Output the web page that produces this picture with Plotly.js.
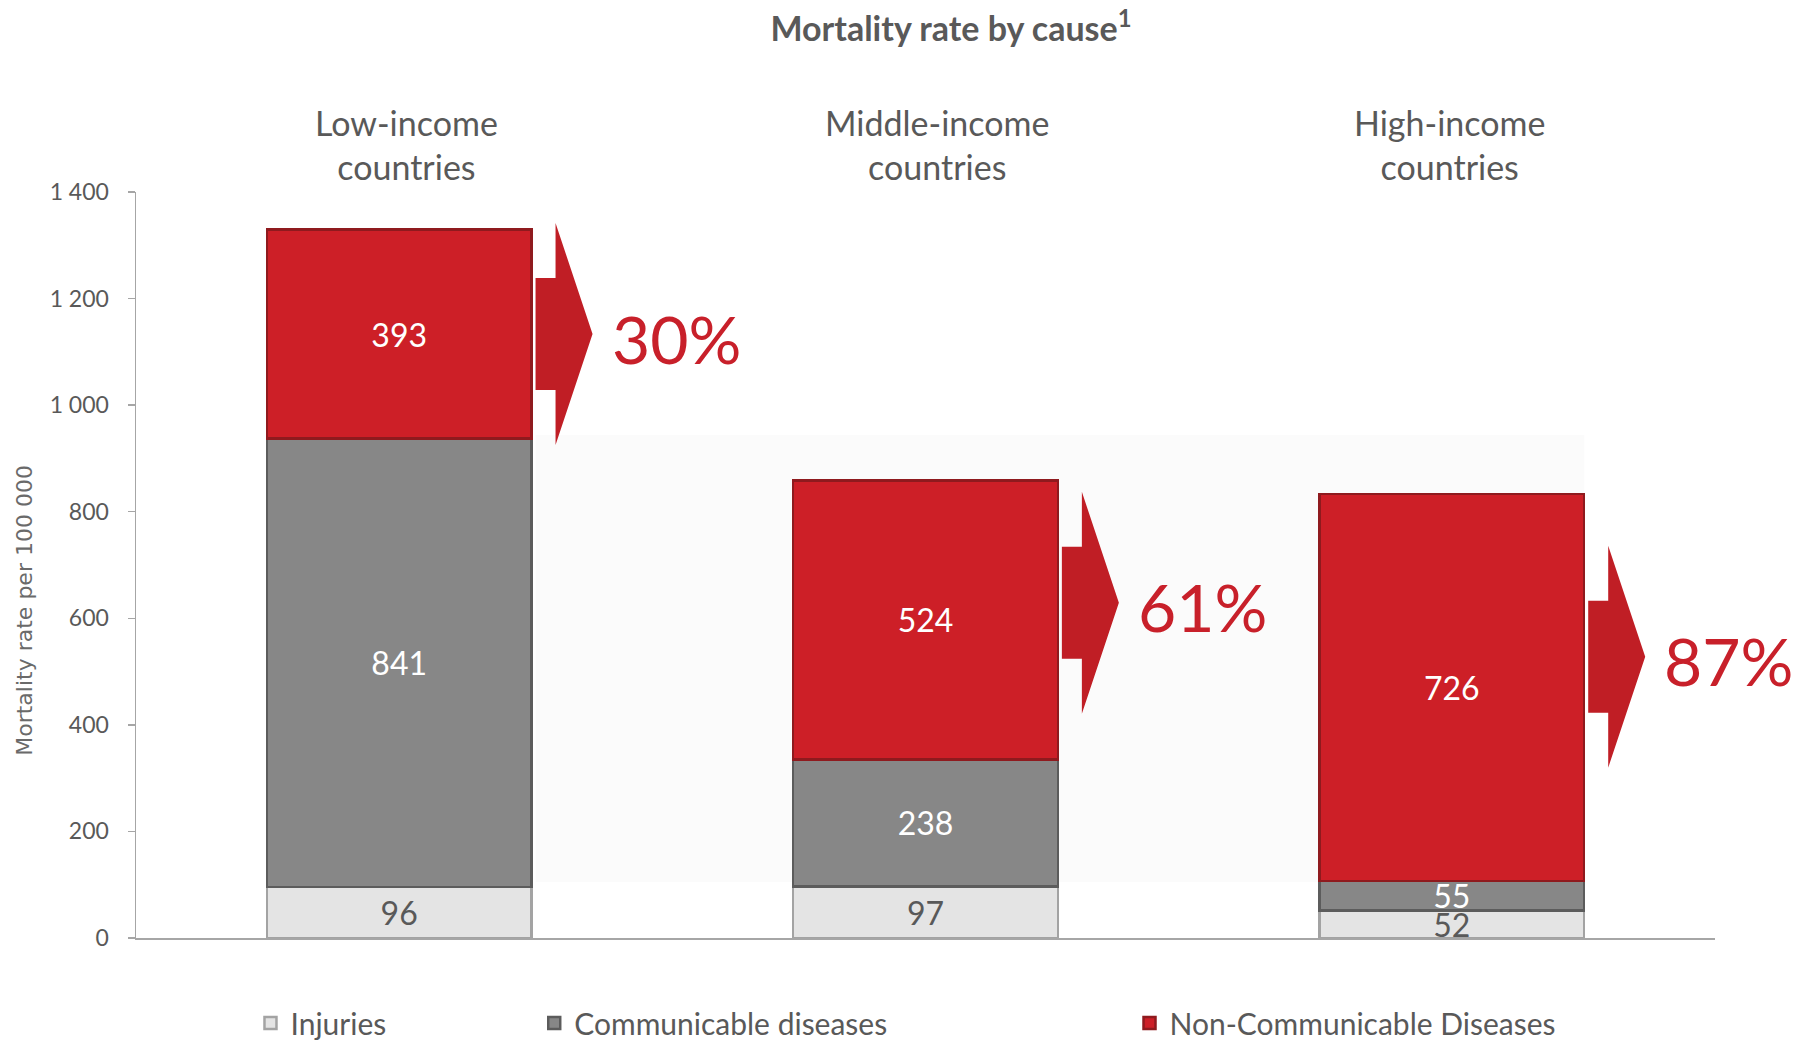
<!DOCTYPE html>
<html><head><meta charset="utf-8">
<script src="https://cdn.plot.ly/plotly-3.0.1.min.js"></script>
<style>html,body{margin:0;padding:0;background:#fff;} #chart{width:1796px;height:1040px;}</style>
</head><body><div id="chart"></div>
<script>
// ---- data ----
const categories = ['Low-income countries', 'Middle-income countries', 'High-income countries'];
const categoryLabels = ['Low-income<br>countries', 'Middle-income<br>countries', 'High-income<br>countries'];
const seriesNames = ['Injuries', 'Communicable diseases', 'Non-Communicable Diseases'];
const injuries = [96, 97, 52];
const communicable = [841, 238, 55];
const nonCommunicable = [393, 524, 726];
const ncdShareLabels = ['30%', '61%', '87%'];
const yTickValues = [0, 200, 400, 600, 800, 1000, 1200, 1400];
const yTickLabels = ['0', '200', '400', '600', '800', '1 000', '1 200', '1 400'];
const yAxisTitle = 'Mortality rate per 100 000';
const chartTitle = '<b>Mortality rate by cause<sup>1</sup></b>';

// ---- styling ----
const FONT = 'Lato, "Open Sans", sans-serif';
const GREY_TXT = '#595959';
const BAR_W = 0.503;
const barEdge = BAR_W / 2;

function barTrace(values, name, fill, lineColor, txtColor, txtSize, legendId) {
  return {
    type: 'bar', x: categories, y: values, name: name, width: BAR_W,
    marker: {color: fill, line: {color: lineColor, width: 2.5}},
    text: values.map(String), textposition: 'inside', insidetextanchor: 'middle',
    textangle: 0, constraintext: 'none',
    textfont: {family: FONT, size: txtSize, color: txtColor},
    hoverinfo: 'skip', legend: legendId, showlegend: true
  };
}

const traces = [
  barTrace(injuries, seriesNames[0], '#e4e4e4', '#a3a3a3', GREY_TXT, 35, 'legend'),
  barTrace(communicable, seriesNames[1], '#878787', '#5c5c5c', '#ffffff', 32, 'legend2'),
  barTrace(nonCommunicable, seriesNames[2], '#cd1f27', '#8f1a1e', '#ffffff', 32, 'legend3')
];

// layout-only positions for decorations
const arrowCenters = [1133.5, 629, 528];
const labelShift = [7, 11, -2];

const annotations = [];
categories.forEach((c, i) => {
  annotations.push({
    x: i, xref: 'x', y: 1.0637, yref: 'paper', xshift: labelShift[i],
    text: categoryLabels[i], showarrow: false, yanchor: 'middle',
    font: {family: FONT, size: 34, color: GREY_TXT}
  });
  annotations.push({
    x: i + barEdge, xref: 'x', xanchor: 'left', xshift: 78,
    y: arrowCenters[i], yref: 'y', yanchor: 'middle', yshift: -4,
    text: ncdShareLabels[i], showarrow: false,
    font: {family: FONT, size: 66, color: '#c8202a'}
  });
});
annotations.push({
  x: -0.0703, xref: 'paper', y: 616, yref: 'y', textangle: -90,
  text: yAxisTitle, showarrow: false, xanchor: 'center', yanchor: 'middle',
  font: {family: '"DejaVu Sans", sans-serif', size: 22, color: '#6a6a6a'}
});

const shapes = [{
  type: 'rect', xref: 'x', yref: 'y', layer: 'below',
  x0: barEdge + 0.008, x1: 2 + barEdge, y0: 105, y1: 944,
  fillcolor: '#fbfbfb', line: {width: 0}
}];
categories.forEach((c, i) => {
  shapes.push({
    type: 'path', xref: 'x', yref: 'y', xsizemode: 'pixel', ysizemode: 'pixel',
    xanchor: i + barEdge, yanchor: arrowCenters[i],
    path: 'M4,-56L24,-56L24,-111L61,0L24,111L24,56L4,56Z',
    fillcolor: '#c01e25', line: {width: 0}
  });
});

const legendBase = {
  orientation: 'h', yref: 'paper', y: -0.114, yanchor: 'middle', xanchor: 'left',
  font: {family: FONT, size: 30, color: GREY_TXT}, bgcolor: 'rgba(0,0,0,0)', borderwidth: 0,
  visible: true
};

const layout = {
  width: 1796, height: 1040,
  margin: {l: 136, r: 81, t: 192, b: 102, autoexpand: false},
  paper_bgcolor: '#ffffff', plot_bgcolor: 'rgba(0,0,0,0)',
  showlegend: true,
  barmode: 'stack', bargap: 0,
  title: {
    text: chartTitle, xref: 'container', x: 0.5295, xanchor: 'center',
    yref: 'container', y: 0.972, yanchor: 'middle',
    font: {family: FONT, size: 34, color: GREY_TXT}
  },
  xaxis: {
    type: 'category', range: [-0.5, 2.5], showticklabels: false, ticks: '',
    showline: true, linecolor: '#a6a6a6', linewidth: 2, showgrid: false, zeroline: false
  },
  yaxis: {
    range: [0, 1400], tickmode: 'array', tickvals: yTickValues, ticktext: yTickLabels,
    ticks: 'outside', ticklen: 7, tickcolor: '#a6a6a6', tickwidth: 1.5,
    ticklabelstandoff: 14,
    showline: true, linecolor: '#a6a6a6', linewidth: 1.5, showgrid: false, zeroline: false,
    tickfont: {family: FONT, size: 23, color: GREY_TXT}
  },
  uniformtext: {mode: 'show', minsize: 30},
  legend: Object.assign({}, legendBase, {x: 0.0725}),
  legend2: Object.assign({}, legendBase, {x: 0.2522}),
  legend3: Object.assign({}, legendBase, {x: 0.6292}),
  annotations: annotations,
  shapes: shapes
};

Plotly.newPlot('chart', traces, layout, {displayModeBar: false, staticPlot: true});
</script>
</body></html>
